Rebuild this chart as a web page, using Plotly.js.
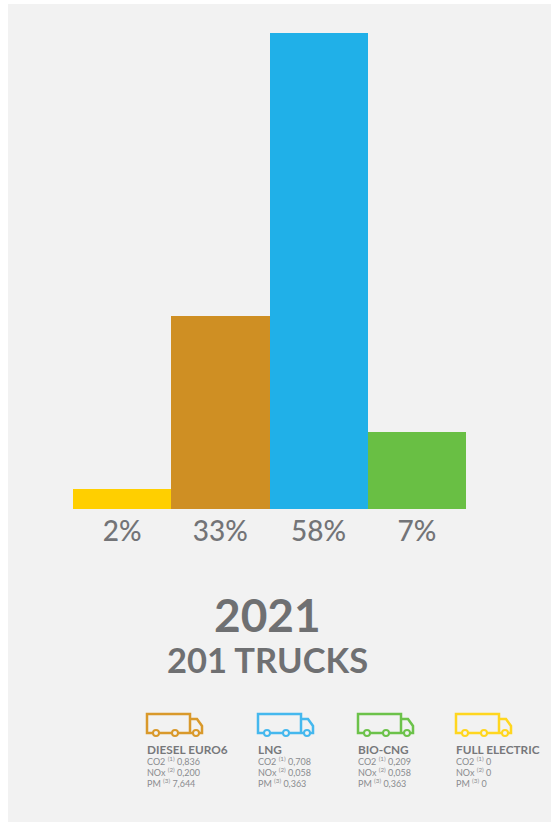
<!DOCTYPE html>
<html>
<head>
<meta charset="utf-8">
<script src="https://cdn.plot.ly/plotly-3.0.1.min.js"></script>
<style>html,body{margin:0;padding:0;background:#fff}#chart{width:551px;height:825px}</style>
</head>
<body>
<div id="chart"></div>
<script>
var categories = ["Full electric", "Diesel Euro6", "LNG", "Bio-CNG"];
var barHeights = [2.4, 23.5, 58, 9.4];
var shareLabels = ["2%", "33%", "58%", "7%"];
var barColors = ["#ffcf00", "#cf8f23", "#20b0e8", "#69bf44"];

var legendNames = ["DIESEL EURO6", "LNG", "BIO-CNG", "FULL ELECTRIC"];
var legendColors = ["#d9992b", "#45b8ee", "#6cc24a", "#ffd61f"];
var legendCO2 = ["0,836", "0,708", "0,209", "0"];
var legendNOx = ["0,200", "0,058", "0,058", "0"];
var legendPM = ["7,644", "0,363", "0,363", "0"];
var legendX = [147, 258, 358, 456];

var W = 551, H = 825;
function px(x){ return x / W; }
function py(y){ return 1 - y / H; }
function P(x, y){ return px(x).toFixed(5) + "," + py(y).toFixed(5); }

var shapes = [{
  type: "rect", xref: "paper", yref: "paper", layer: "below",
  x0: px(8), x1: 1, y0: py(822), y1: py(4),
  fillcolor: "#f2f2f2", line: {width: 0}
}];

var annotations = [];
function addText(x, y, text, size, color, bold, anchor) {
  annotations.push({
    xref: "paper", yref: "paper", x: px(x), y: py(y),
    xanchor: anchor || "left", yanchor: "middle", align: "left", showarrow: false,
    text: bold ? "<b>" + text + "</b>" : text,
    font: {family: "Lato, sans-serif", size: size, color: color}
  });
}

addText(267, 614, "2021", 46, "#6f7072", true, "center");
addText(267, 659, "201 TRUCKS", 34.5, "#6f7072", true, "center");

legendNames.forEach(function (name, i) {
  var x = legendX[i], c = legendColors[i], y0 = 714, b = y0 + 19;
  var d = "M" + P(x + 6, b) + " L" + P(x, b) + " L" + P(x, y0) + " L" + P(x + 43, y0) +
          " L" + P(x + 43, b) +
          " M" + P(x + 43, y0 + 5) + " L" + P(x + 50, y0 + 5) + " L" + P(x + 55, y0 + 12) +
          " L" + P(x + 55, b) + " L" + P(x + 52, b) +
          " M" + P(x + 12, b) + " L" + P(x + 25, b) +
          " M" + P(x + 31, b) + " L" + P(x + 46, b);
  shapes.push({type: "path", xref: "paper", yref: "paper", path: d, line: {color: c, width: 2.5}});
  [9, 28, 49].forEach(function (dx) {
    shapes.push({
      type: "circle", xref: "paper", yref: "paper",
      x0: px(x + dx - 3), x1: px(x + dx + 3), y0: py(b + 3), y1: py(b - 3),
      fillcolor: "#f2f2f2", line: {color: c, width: 2}
    });
  });
  var small = function (s) { return '<span style="font-size:9px;fill:#8a8c8f">' + s + "</span>"; };
  var block = '<span style="font-size:11.8px;font-weight:700;fill:#77787b">' + name + "</span><br>" +
    small("CO2 <sup>(1)</sup> " + legendCO2[i]) + "<br>" +
    small("NOx <sup>(2)</sup> " + legendNOx[i]) + "<br>" +
    small("PM <sup>(3)</sup> " + legendPM[i]);
  addText(x - 2, 765.5, block, 8.46, "#8a8c8f", false);
});

var trace = {
  type: "bar", x: categories, y: barHeights,
  marker: {color: barColors, line: {width: 0}},
  width: 1, hoverinfo: "skip"
};

var layout = {
  width: W, height: H,
  margin: {l: 0, r: 0, t: 0, b: 0},
  paper_bgcolor: "#ffffff", plot_bgcolor: "rgba(0,0,0,0)",
  showlegend: false,
  bargap: 0,
  xaxis: {
    domain: [px(73), px(466)], anchor: "y", type: "category",
    tickmode: "array", tickvals: categories, ticktext: shareLabels,
    ticks: "", ticklabelstandoff: 3,
    showgrid: false, zeroline: false, showline: false, fixedrange: true,
    tickfont: {family: "Lato, sans-serif", size: 28, color: "#737477", weight: 500}
  },
  yaxis: {
    domain: [py(509), py(33)], range: [0, 58],
    visible: false, showgrid: false, zeroline: false, fixedrange: true
  },
  shapes: shapes,
  annotations: annotations
};

Plotly.newPlot("chart", [trace], layout, {displayModeBar: false, staticPlot: true});
</script>
</body>
</html>
